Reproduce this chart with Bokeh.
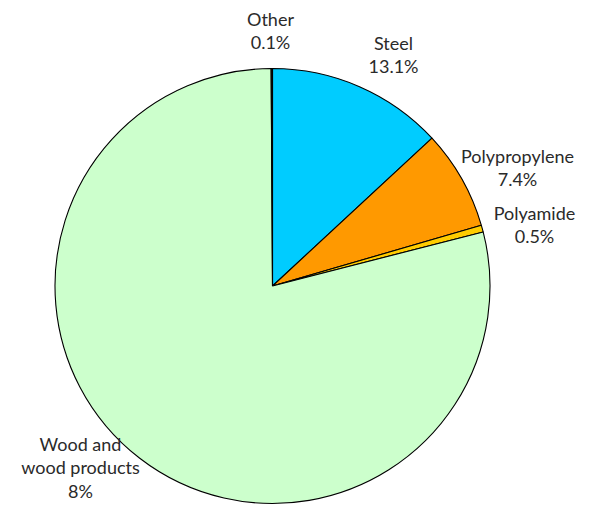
import math
from bokeh.plotting import figure
from bokeh.models import ColumnDataSource, Range1d
from bokeh.core.properties import value
from bokeh.embed import file_html
from bokeh.resources import INLINE

# ---- data ----
categories = ["Steel", "Polypropylene", "Polyamide", "Wood and\nwood products", "Other"]
shares = [13.1, 7.4, 0.5, 78.9, 0.1]
share_labels = ["13.1%", "7.4%", "0.5%", "8%", "0.1%"]
colors = ["#00ccff", "#ff9900", "#ffcc00", "#ccffcc", "#1a1a1a"]

# ---- layout (page pixels) ----
W, H = 590, 506
CX, CY, R = 272, 285.5, 217.5
label_anchor = [(393, 54), (517, 167), (534, 224), (80, 467), (270, 30)]

total = sum(shares)
starts, ends = [], []
cum = 0.0
for v in shares:
    starts.append(math.pi / 2 - 2 * math.pi * cum / total)
    cum += v
    ends.append(math.pi / 2 - 2 * math.pi * cum / total)

src = ColumnDataSource(dict(start=starts, end=ends, color=colors))

p = figure(width=W, height=H, x_range=Range1d(0, W), y_range=Range1d(-H, 0),
           output_backend="svg", toolbar_location=None, min_border=0,
           x_axis_type=None, y_axis_type=None, outline_line_color=None,
           background_fill_color="white", border_fill_color="white")
p.grid.visible = False

p.wedge(x=CX, y=-CY, radius=R, start_angle="start", end_angle="end", direction="clock",
        fill_color="color", line_color="black", line_width=1.1, source=src)

lsrc = ColumnDataSource(dict(
    x=[a[0] for a in label_anchor],
    y=[-a[1] for a in label_anchor],
    text=[f"{c}\n{s}" for c, s in zip(categories, share_labels)],
))
p.text(x="x", y="y", text="text", source=lsrc, text_align="center", text_baseline="middle",
       text_font=value("Lato"), text_font_size="18px",
       text_color="#2a2a2a", text_line_height=1.06)

open("out.html", "w").write(file_html(p, INLINE))
